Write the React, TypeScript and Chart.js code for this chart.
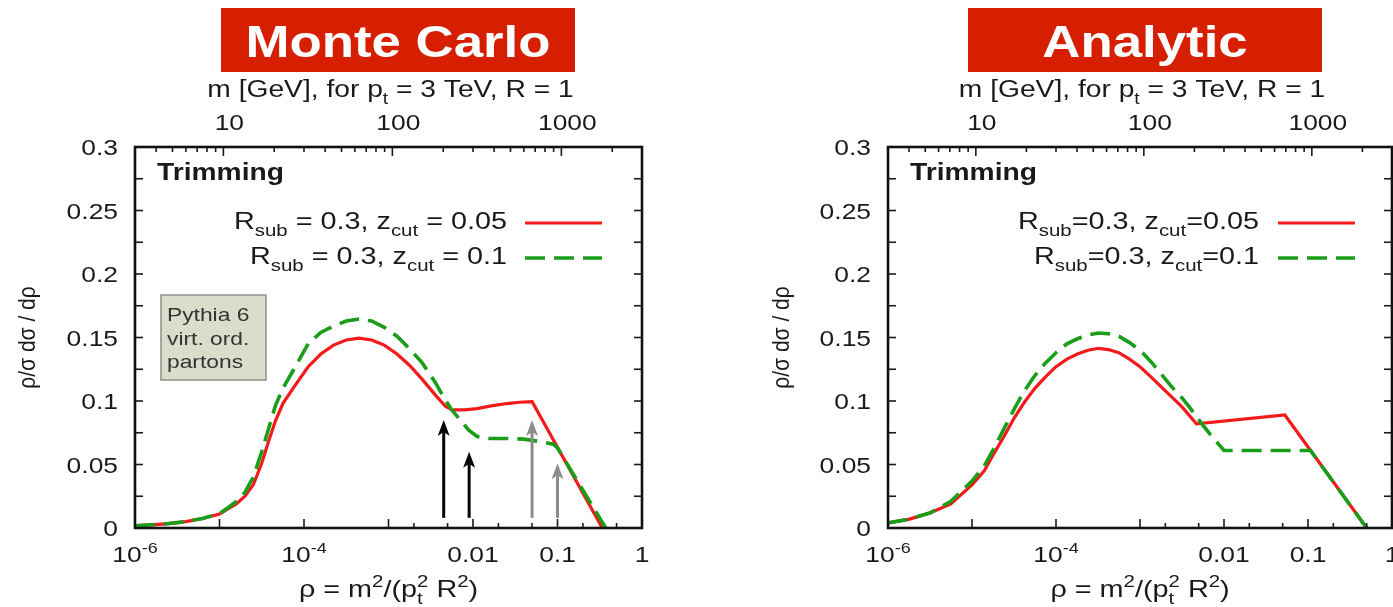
import React, { useEffect, useRef } from 'react';
import { Chart, registerables } from 'chart.js';
Chart.register(...registerables);

// ---------------- data ----------------
const rhoMin = 1e-6;
const rhoMax = 1;
const mMin = 3; // m at rho = 1e-6 for pt = 3 TeV, R = 1
const mMax = 3000;
const yMin = 0;
const yMax = 0.3;

// Monte Carlo, zcut = 0.05 (red solid)
const mcRedRho = [1e-6, 1.58e-6, 2.51e-6, 3.98e-6, 6.31e-6, 1e-5, 1.26e-5, 1.58e-5, 2e-5, 2.51e-5, 3.16e-5, 3.8e-5, 4.57e-5, 5.62e-5, 7.59e-5, 1.12e-4, 1.58e-4, 2.24e-4, 3.16e-4, 4.47e-4, 6.31e-4, 8.91e-4, 1.26e-3, 1.78e-3, 2.51e-3, 3.55e-3, 4.68e-3, 5.62e-3, 7.94e-3, 0.0112, 0.0158, 0.0251, 0.0355, 0.0501, 0.339];
const mcRedVal = [0.0018, 0.0025, 0.0035, 0.005, 0.0075, 0.011, 0.015, 0.019, 0.025, 0.034, 0.051, 0.068, 0.084, 0.098, 0.111, 0.127, 0.137, 0.144, 0.148, 0.1495, 0.148, 0.144, 0.137, 0.128, 0.117, 0.105, 0.096, 0.093, 0.093, 0.094, 0.096, 0.098, 0.099, 0.0995, 0];
// Monte Carlo, zcut = 0.1 (green dashed)
const mcGreenRho = [1e-6, 1.58e-6, 2.51e-6, 3.98e-6, 6.31e-6, 1e-5, 1.26e-5, 1.58e-5, 2e-5, 2.51e-5, 3.16e-5, 3.8e-5, 4.57e-5, 5.62e-5, 7.59e-5, 1.12e-4, 1.58e-4, 2.24e-4, 3.16e-4, 4.47e-4, 6.31e-4, 8.91e-4, 1.26e-3, 1.78e-3, 2.51e-3, 3.55e-3, 4.68e-3, 5.62e-3, 7.08e-3, 8.91e-3, 0.0112, 0.0158, 0.0251, 0.0398, 0.0631, 0.0891, 0.1, 0.372];
const mcGreenVal = [0.0018, 0.0025, 0.0035, 0.005, 0.0075, 0.0115, 0.016, 0.021, 0.028, 0.04, 0.06, 0.078, 0.096, 0.11, 0.125, 0.145, 0.154, 0.159, 0.163, 0.1645, 0.163, 0.158, 0.151, 0.141, 0.13, 0.115, 0.101, 0.093, 0.085, 0.077, 0.072, 0.0705, 0.0705, 0.07, 0.068, 0.066, 0.063, 0];

// Analytic, zcut = 0.05 (red solid)
const anRedRho = [1e-6, 1.8e-6, 3.2e-6, 5.6e-6, 1e-5, 1.4e-5, 1.8e-5, 2.4e-5, 3.2e-5, 4.2e-5, 5.6e-5, 7.5e-5, 1e-4, 1.35e-4, 1.8e-4, 2.4e-4, 3.2e-4, 4.2e-4, 5.6e-4, 7.5e-4, 1e-3, 1.35e-3, 1.8e-3, 2.4e-3, 3.2e-3, 4.7e-3, 0.053, 0.5];
const anRedVal = [0.004, 0.007, 0.012, 0.019, 0.034, 0.045, 0.058, 0.072, 0.087, 0.099, 0.11, 0.119, 0.127, 0.133, 0.137, 0.14, 0.1415, 0.1405, 0.138, 0.133, 0.127, 0.119, 0.111, 0.103, 0.095, 0.082, 0.089, 0];
// Analytic, zcut = 0.1 (green dashed)
const anGreenRho = [1e-6, 1.8e-6, 3.2e-6, 5.6e-6, 1e-5, 1.4e-5, 1.8e-5, 2.4e-5, 3.2e-5, 4.2e-5, 5.6e-5, 7.5e-5, 1e-4, 1.35e-4, 1.8e-4, 2.4e-4, 3.2e-4, 4.2e-4, 5.6e-4, 7.5e-4, 1e-3, 1.35e-3, 1.8e-3, 2.4e-3, 3.2e-3, 4e-3, 5.6e-3, 7e-3, 0.01, 0.107, 0.5];
const anGreenVal = [0.004, 0.007, 0.012, 0.021, 0.037, 0.049, 0.062, 0.078, 0.094, 0.108, 0.12, 0.13, 0.138, 0.145, 0.149, 0.152, 0.1535, 0.153, 0.151, 0.146, 0.14, 0.131, 0.121, 0.111, 0.102, 0.094, 0.081, 0.073, 0.061, 0.061, 0];

// arrows in the Monte Carlo panel (rho = Rsub^2 zcut and zcut)
const mcArrowRho = [0.0045, 0.009, 0.05, 0.1];
const mcArrowTop = [0.085, 0.06, 0.085, 0.051];
const mcArrowBase = 0.008;
const mcArrowDark = [true, true, false, false];

// axes
const yTickValues = [0, 0.025, 0.05, 0.075, 0.1, 0.125, 0.15, 0.175, 0.2, 0.225, 0.25, 0.275, 0.3];
const yLabelValues = [0, 0.05, 0.1, 0.15, 0.2, 0.25, 0.3];
const yLabelText = ['0', '0.05', '0.1', '0.15', '0.2', '0.25', '0.3'];
const xMajorTicks = [1e-6, 1e-5, 1e-4, 1e-3, 1e-2, 1e-1, 1];
const xMinorTicks = [2e-3, 5e-3, 0.02, 0.05, 0.2, 0.5];
const xLabelValues = [1e-6, 1e-4, 0.01, 0.1, 1];
const xLabelBase = ['10', '10', '0.01', '0.1', '1'];
const xLabelExp = ['-6', '-4', '', '', ''];
const mMajorTicks = [10, 100, 1000];
const mMinorTicks = [3, 4, 5, 6, 7, 8, 9, 20, 30, 40, 50, 60, 70, 80, 90, 200, 300, 400, 500, 600, 700, 800, 900, 2000, 3000];
const mLabelText = ['10', '100', '1000'];

// ---------------- styles ----------------
const FONT = '"Liberation Sans", Arial, Helvetica, sans-serif';
const SX = 1.2;
const INK = '#1a1a1a';
const RED = '#f21a1a';
const GREEN = '#1a9e1a';
const TITLE_RED = '#d61f00';

type Seg = { t: string; s?: 'sub' | 'sup' | 'subsup'; t2?: string };
type TextOpt = { size: number; bold?: boolean; align?: 'left' | 'center' | 'right'; color?: string; sx?: number };

function drawRich(ctx: CanvasRenderingContext2D, segs: Seg[], x: number, y: number, o: TextOpt) {
  const sx = o.sx ?? SX;
  const w = o.bold ? 'bold ' : '';
  const fMain = `${w}${o.size}px ${FONT}`;
  const fSmall = `${w}${Math.round(o.size * 0.7)}px ${FONT}`;
  const widths = segs.map((sg) => {
    if (!sg.s) {
      ctx.font = fMain;
      return ctx.measureText(sg.t).width;
    }
    ctx.font = fSmall;
    const a = ctx.measureText(sg.t).width;
    const b = sg.t2 ? ctx.measureText(sg.t2).width : 0;
    return Math.max(a, b);
  });
  const total = widths.reduce((p, q) => p + q, 0) * sx;
  let cx = o.align === 'center' ? x - total / 2 : o.align === 'right' ? x - total : x;
  ctx.fillStyle = o.color ?? INK;
  ctx.textAlign = 'left';
  ctx.textBaseline = 'alphabetic';
  const put = (t: string, px: number, py: number) => {
    ctx.save();
    ctx.translate(px, py);
    ctx.scale(sx, 1);
    ctx.fillText(t, 0, 0);
    ctx.restore();
  };
  segs.forEach((sg, i) => {
    if (!sg.s) {
      ctx.font = fMain;
      put(sg.t, cx, y);
    } else {
      ctx.font = fSmall;
      if (sg.s === 'sub' || sg.s === 'subsup') put(sg.t, cx, y + o.size * 0.3);
      if (sg.s === 'sup') put(sg.t, cx, y - o.size * 0.42);
      if (sg.s === 'subsup' && sg.t2) put(sg.t2, cx, y - o.size * 0.42);
    }
    cx += widths[i] * sx;
  });
}

const topTitle: Seg[] = [{ t: 'm [GeV], for p' }, { t: 't', s: 'sub' }, { t: ' = 3 TeV, R = 1' }];
const bottomTitle: Seg[] = [{ t: 'ρ = m' }, { t: '2', s: 'sup' }, { t: '/(p' }, { t: 't', s: 'subsup', t2: '2' }, { t: ' R' }, { t: '2', s: 'sup' }, { t: ')' }];
const yTitle: Seg[] = [{ t: 'ρ/σ dσ / dρ' }];

type PanelCfg = {
  left: number;
  width: number;
  axisLeft: number;
  padRight: number;
  title: string;
  box: [number, number];
  redRho: number[];
  redVal: number[];
  greenRho: number[];
  greenVal: number[];
  legendRed: Seg[];
  legendGreen: Seg[];
  legendTextRight: number;
  legendLine: [number, number];
  yTitleX: number;
  pythia: boolean;
  arrows: boolean;
};

const panels: PanelCfg[] = [
  {
    left: 0,
    width: 700,
    axisLeft: 135,
    padRight: 58,
    title: 'Monte Carlo',
    box: [221, 575],
    redRho: mcRedRho,
    redVal: mcRedVal,
    greenRho: mcGreenRho,
    greenVal: mcGreenVal,
    legendRed: [{ t: 'R' }, { t: 'sub', s: 'sub' }, { t: ' = 0.3, z' }, { t: 'cut', s: 'sub' }, { t: ' = 0.05' }],
    legendGreen: [{ t: 'R' }, { t: 'sub', s: 'sub' }, { t: ' = 0.3, z' }, { t: 'cut', s: 'sub' }, { t: ' = 0.1' }],
    legendTextRight: 507,
    legendLine: [525, 602],
    yTitleX: 28,
    pythia: true,
    arrows: true,
  },
  {
    left: 700,
    width: 693,
    axisLeft: 188,
    padRight: 1,
    title: 'Analytic',
    box: [268, 622],
    redRho: anRedRho,
    redVal: anRedVal,
    greenRho: anGreenRho,
    greenVal: anGreenVal,
    legendRed: [{ t: 'R' }, { t: 'sub', s: 'sub' }, { t: '=0.3, z' }, { t: 'cut', s: 'sub' }, { t: '=0.05' }],
    legendGreen: [{ t: 'R' }, { t: 'sub', s: 'sub' }, { t: '=0.3, z' }, { t: 'cut', s: 'sub' }, { t: '=0.1' }],
    legendTextRight: 559,
    legendLine: [578, 655],
    yTitleX: 82,
    pythia: false,
    arrows: false,
  },
];

function makeDecor(p: PanelCfg) {
  return {
    id: 'decor',
    afterDatasetsDraw(chart: any) {
      const ctx: CanvasRenderingContext2D = chart.ctx;
      const a = chart.chartArea;
      const sxs = chart.scales.x;
      const sys = chart.scales.y;
      const sms = chart.scales.x2;
      const cxMid = (a.left + a.right) / 2;
      ctx.save();

      // arrows
      if (p.arrows) {
        mcArrowRho.forEach((r, i) => {
          const px = sxs.getPixelForValue(r);
          const pb = sys.getPixelForValue(mcArrowBase);
          const pt = sys.getPixelForValue(mcArrowTop[i]);
          const col = mcArrowDark[i] ? '#050505' : '#8c8c8c';
          ctx.strokeStyle = col;
          ctx.fillStyle = col;
          ctx.lineWidth = 3;
          ctx.beginPath();
          ctx.moveTo(px, pb);
          ctx.lineTo(px, pt + 12);
          ctx.stroke();
          ctx.beginPath();
          ctx.moveTo(px, pt);
          ctx.lineTo(px - 6, pt + 16);
          ctx.lineTo(px, pt + 12);
          ctx.lineTo(px + 6, pt + 16);
          ctx.closePath();
          ctx.fill();
        });
      }

      // ticks
      ctx.strokeStyle = INK;
      ctx.lineWidth = 1.6;
      const seg = (x0: number, y0: number, x1: number, y1: number) => {
        ctx.beginPath();
        ctx.moveTo(x0, y0);
        ctx.lineTo(x1, y1);
        ctx.stroke();
      };
      yTickValues.forEach((v) => {
        const py = sys.getPixelForValue(v);
        seg(a.left, py, a.left + 8, py);
        seg(a.right, py, a.right - 8, py);
      });
      xMajorTicks.forEach((v) => {
        const px = sxs.getPixelForValue(v);
        seg(px, a.bottom, px, a.bottom - 9);
      });
      xMinorTicks.forEach((v) => {
        const px = sxs.getPixelForValue(v);
        seg(px, a.bottom, px, a.bottom - 5);
      });
      mMajorTicks.forEach((v) => {
        const px = sms.getPixelForValue(v);
        seg(px, a.top, px, a.top + 9);
      });
      mMinorTicks.forEach((v) => {
        const px = sms.getPixelForValue(v);
        seg(px, a.top, px, a.top + 5);
      });

      // frame
      ctx.lineWidth = 2.6;
      ctx.strokeStyle = '#111';
      ctx.strokeRect(a.left, a.top, a.right - a.left, a.bottom - a.top);

      // tick labels
      yLabelValues.forEach((v, i) => {
        const py = sys.getPixelForValue(v);
        drawRich(ctx, [{ t: yLabelText[i] }], a.left - 17, py + 8, { size: 22, align: 'right' });
      });
      xLabelValues.forEach((v, i) => {
        const px = sxs.getPixelForValue(v);
        const segs: Seg[] = xLabelExp[i] ? [{ t: xLabelBase[i] }, { t: xLabelExp[i], s: 'sup' }] : [{ t: xLabelBase[i] }];
        drawRich(ctx, segs, px, a.bottom + 34, { size: 22, align: 'center' });
      });
      mMajorTicks.forEach((v, i) => {
        const px = sms.getPixelForValue(v);
        drawRich(ctx, [{ t: mLabelText[i] }], px + 6, a.top - 17, { size: 22, align: 'center' });
      });

      // axis titles
      drawRich(ctx, topTitle, cxMid + 2, 97, { size: 23.5, align: 'center' });
      drawRich(ctx, bottomTitle, cxMid, 597, { size: 24, align: 'center' });
      ctx.save();
      ctx.translate(p.yTitleX, (a.top + a.bottom) / 2);
      ctx.rotate(-Math.PI / 2);
      ctx.scale(1, 1.15);
      drawRich(ctx, yTitle, 0, 6, { size: 21, align: 'center', sx: 1 });
      ctx.restore();

      // title box
      ctx.fillStyle = TITLE_RED;
      ctx.fillRect(p.box[0], 8, p.box[1] - p.box[0], 64);
      drawRich(ctx, [{ t: p.title }], (p.box[0] + p.box[1]) / 2, 57, { size: 44, bold: true, align: 'center', color: '#ffffff' });

      // Trimming label
      drawRich(ctx, [{ t: 'Trimming' }], a.left + 22, 180, { size: 23.5, bold: true, align: 'left' });

      // legend
      drawRich(ctx, p.legendRed, p.legendTextRight, 229, { size: 24, align: 'right' });
      drawRich(ctx, p.legendGreen, p.legendTextRight, 264, { size: 24, align: 'right' });
      ctx.lineWidth = 3.2;
      ctx.strokeStyle = RED;
      ctx.setLineDash([]);
      seg(p.legendLine[0], 223, p.legendLine[1], 223);
      ctx.strokeStyle = GREEN;
      ctx.lineWidth = 3.6;
      ctx.setLineDash([20, 9]);
      seg(p.legendLine[0], 258, p.legendLine[1], 258);
      ctx.setLineDash([]);

      // generator info box
      if (p.pythia) {
        ctx.fillStyle = '#dcdccd';
        ctx.fillRect(161, 295, 105, 85);
        ctx.strokeStyle = '#8e8e86';
        ctx.lineWidth = 1.5;
        ctx.strokeRect(161, 295, 105, 85);
        drawRich(ctx, [{ t: 'Pythia 6' }], 167, 321, { size: 19, align: 'left', color: '#333' });
        drawRich(ctx, [{ t: 'virt. ord.' }], 167, 345, { size: 19, align: 'left', color: '#333' });
        drawRich(ctx, [{ t: 'partons' }], 167, 368, { size: 19, align: 'left', color: '#333' });
      }
      ctx.restore();
    },
  };
}

function makeConfig(p: PanelCfg): any {
  const hidden = {
    grid: { display: false, drawTicks: false },
    border: { display: false },
    ticks: { display: false },
  };
  return {
    type: 'line',
    data: {
      datasets: [
        {
          label: 'Rsub=0.3, zcut=0.1',
          data: p.greenRho.map((r, i) => ({ x: r, y: p.greenVal[i] })),
          borderColor: GREEN,
          borderWidth: 3.6,
          borderDash: [20, 9],
          pointRadius: 0,
          tension: 0,
          fill: false,
          order: 0,
        },
        {
          label: 'Rsub=0.3, zcut=0.05',
          data: p.redRho.map((r, i) => ({ x: r, y: p.redVal[i] })),
          borderColor: RED,
          borderWidth: 3.2,
          pointRadius: 0,
          tension: 0,
          fill: false,
          order: 1,
        },
      ],
    },
    options: {
      animation: false,
      responsive: false,
      maintainAspectRatio: false,
      events: [],
      layout: { padding: { left: 0, right: p.padRight, top: 0, bottom: 0 } },
      plugins: { legend: { display: false }, tooltip: { enabled: false }, title: { display: false } },
      scales: {
        x: {
          type: 'logarithmic',
          position: 'bottom',
          min: rhoMin,
          max: rhoMax,
          ...hidden,
          afterFit: (s: any) => {
            s.height = 79;
          },
        },
        x2: {
          type: 'logarithmic',
          position: 'top',
          min: mMin,
          max: mMax,
          ...hidden,
          afterFit: (s: any) => {
            s.height = 147;
          },
        },
        y: {
          type: 'linear',
          position: 'left',
          min: yMin,
          max: yMax,
          ...hidden,
          afterFit: (s: any) => {
            s.width = p.axisLeft;
          },
        },
      },
    },
    plugins: [makeDecor(p)],
  };
}

function Panel({ cfg }: { cfg: PanelCfg }) {
  const ref = useRef<HTMLCanvasElement>(null);
  useEffect(() => {
    const chart = new Chart(ref.current as HTMLCanvasElement, makeConfig(cfg));
    return () => chart.destroy();
  }, [cfg]);
  return (
    <canvas
      ref={ref}
      width={cfg.width}
      height={607}
      style={{ position: 'absolute', left: cfg.left, top: 0, width: cfg.width, height: 607 }}
    />
  );
}

export default function App() {
  return (
    <div style={{ position: 'absolute', left: 0, top: 0, width: 1393, height: 607, background: '#ffffff', overflow: 'hidden' }}>
      {panels.map((p) => (
        <Panel key={p.title} cfg={p} />
      ))}
    </div>
  );
}
